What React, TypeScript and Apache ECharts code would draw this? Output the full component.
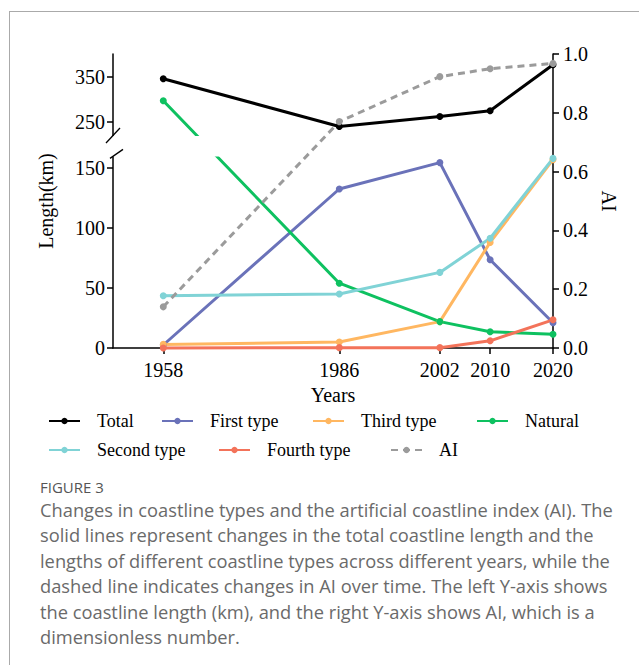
import React, { useEffect, useRef } from "react";
import * as echarts from "echarts";

// ---- data ----
const years = [1958, 1986, 2002, 2010, 2020];
const total = [346, 240, 262, 275, 377];
const firstType = [2.5, 132.5, 154.5, 73.5, 21];
const thirdType = [3, 5, 22, 88, 157];
const natural = [297, 54, 22, 13.5, 11.5];
const secondType = [43.5, 45, 63, 91.5, 158];
const fourthType = [0, 0.3, 0.3, 6, 23.5];
const aiIndex = [0.14, 0.77, 0.923, 0.95, 0.968];
const leftTickValues = [0, 50, 100, 150, 250, 350];

// ---- broken left axis (lower segment 0..158, upper segment 221..401) ----
const LOW_MAX = 158;
const UP_MIN = 221;
const UP_MAX = 401;
const GAP = 19.5;
const UP_RATIO = 0.375;
const toDisp = (v: number) => (v <= LOW_MAX ? v : LOW_MAX + GAP + (v - UP_MIN) * UP_RATIO);
const fromDisp = (d: number) => (d <= LOW_MAX ? d : UP_MIN + (d - LOW_MAX - GAP) / UP_RATIO);

const SERIF = "'Liberation Serif', 'Times New Roman', serif";

const colors = {
  Total: "#000000",
  "First type": "#6a72b9",
  "Third type": "#ffb761",
  Natural: "#0ec160",
  "Second type": "#80d3d6",
  "Fourth type": "#f3735a",
  AI: "#9b9b9b",
};

export default function App() {
  const ref = useRef<HTMLDivElement>(null);

  useEffect(() => {
    if (!ref.current) return;
    const chart = echarts.init(ref.current, undefined, { renderer: "svg" });

    const mk = (name: string, vals: number[]) => ({
      name,
      type: "line",
      xAxisIndex: 0,
      yAxisIndex: 0,
      data: years.map((y, i) => [y, toDisp(vals[i])]),
      symbol: "circle",
      symbolSize: 7,
      showSymbol: true,
      clip: false,
      itemStyle: { color: (colors as any)[name] },
      lineStyle: { color: (colors as any)[name], width: 3 },
    });

    const legendPos: [string, number, number][] = [
      ["Total", 48, 412],
      ["First type", 161, 412],
      ["Third type", 312, 412],
      ["Natural", 476, 412],
      ["Second type", 48, 441],
      ["Fourth type", 218, 441],
      ["AI", 390, 441],
    ];

    const option: any = {
      animation: false,
      backgroundColor: "transparent",
      textStyle: { fontFamily: SERIF },
      grid: { left: 113, top: 54, right: 86, bottom: 122, containLabel: false },
      legend: legendPos.map(([n, l, t]) => ({
        data: [n],
        left: l,
        top: t,
        itemWidth: 31,
        itemHeight: 8,
        selectedMode: false,
        padding: 0,
        textStyle: { fontFamily: SERIF, fontSize: 18, color: "#000", padding: [0, 0, 0, 12] },
      })),
      xAxis: {
        type: "value",
        min: 1950,
        max: 2020,
        name: "Years",
        nameLocation: "middle",
        nameGap: 37,
        nameTextStyle: { fontFamily: SERIF, fontSize: 20, color: "#000" },
        axisLine: { show: true, lineStyle: { color: "#000", width: 1.5 } },
        axisTick: { show: true, length: 6, customValues: years, lineStyle: { color: "#000", width: 1.5 } },
        axisLabel: {
          customValues: years,
          margin: 12,
          fontFamily: SERIF,
          fontSize: 20,
          color: "#000",
          formatter: (v: number) => String(v),
        },
        splitLine: { show: false },
      },
      yAxis: [
        {
          type: "value",
          position: "left",
          min: 0,
          max: toDisp(UP_MAX),
          name: "Length(km)",
          nameLocation: "middle",
          nameGap: 57,
          nameTextStyle: { fontFamily: SERIF, fontSize: 20, color: "#000" },
          axisLine: { show: true, lineStyle: { color: "#000", width: 1.5 } },
          axisTick: {
            show: true,
            length: 6,
            customValues: leftTickValues.map(toDisp),
            lineStyle: { color: "#000", width: 1.5 },
          },
          axisLabel: {
            customValues: leftTickValues.map(toDisp),
            margin: 8,
            fontFamily: SERIF,
            fontSize: 20,
            color: "#000",
            formatter: (v: number) => String(Math.round(fromDisp(v))),
          },
          splitLine: { show: false },
        },
        {
          type: "value",
          position: "right",
          min: 0,
          max: 1,
          interval: 0.2,
          name: "AI",
          nameLocation: "middle",
          nameGap: 45,
          nameRotate: -90,
          nameTextStyle: { fontFamily: SERIF, fontSize: 20, color: "#000" },
          axisLine: { show: true, lineStyle: { color: "#000", width: 1.5 } },
          axisTick: { show: true, length: 6, lineStyle: { color: "#000", width: 1.5 } },
          axisLabel: {
            margin: 10,
            fontFamily: SERIF,
            fontSize: 20,
            color: "#000",
            formatter: (v: number) => v.toFixed(1),
          },
          splitLine: { show: false },
        },
      ],
      series: [
        mk("Total", total),
        mk("First type", firstType),
        mk("Third type", thirdType),
        mk("Natural", natural),
        mk("Second type", secondType),
        mk("Fourth type", fourthType),
        {
          name: "AI",
          type: "line",
          xAxisIndex: 0,
          yAxisIndex: 1,
          data: years.map((y, i) => [y, aiIndex[i]]),
          symbol: "circle",
          symbolSize: 7,
          clip: false,
          itemStyle: { color: colors.AI },
          lineStyle: { color: colors.AI, width: 3, type: [7, 5] },
        },
      ],
    };

    chart.setOption(option);

    // break marks on left axis
    const axX = chart.convertToPixel({ xAxisIndex: 0 }, 1950) as number;
    const yUp = chart.convertToPixel({ yAxisIndex: 0 }, toDisp(UP_MIN)) as number;
    const yLow = chart.convertToPixel({ yAxisIndex: 0 }, LOW_MAX) as number;
    chart.setOption({
      graphic: [
        {
          type: "rect",
          z: 100,
          shape: { x: axX - 3, y: yUp + 1, width: 135, height: yLow - yUp - 3 },
          style: { fill: "#ffffff" },
        },
        {
          type: "line",
          z: 101,
          shape: { x1: axX - 7, y1: yUp + 8, x2: axX + 7, y2: yUp - 7 },
          style: { stroke: "#000", lineWidth: 1.3 },
        },
        {
          type: "line",
          z: 101,
          shape: { x1: axX - 3, y1: yLow, x2: axX + 10, y2: yLow - 9 },
          style: { stroke: "#000", lineWidth: 1.3 },
        },
      ],
    });

    return () => chart.dispose();
  }, []);

  const captionLines = [
    "Changes in coastline types and the artificial coastline index (AI). The",
    "solid lines represent changes in the total coastline length and the",
    "lengths of different coastline types across different years, while the",
    "dashed line indicates changes in AI over time. The left Y-axis shows",
    "the coastline length (km), and the right Y-axis shows AI, which is a",
    "dimensionless number.",
  ];

  return (
    <div
      style={{
        position: "absolute",
        left: 0,
        top: 0,
        width: 639,
        height: 665,
        overflow: "hidden",
        background: "#fff",
      }}
    >
      <div
        style={{
          position: "absolute",
          left: 9,
          top: 11,
          width: 700,
          height: 700,
          border: "1px solid #aaaaaa",
        }}
      />
      <div ref={ref} style={{ position: "absolute", left: 0, top: 0, width: 639, height: 470 }} />
      <div
        style={{
          position: "absolute",
          left: 40,
          top: 477,
          fontFamily: "'Open Sans', sans-serif",
          fontSize: 15,
          fontWeight: 400,
          color: "#555555",
        }}
      >
        FIGURE 3
      </div>
      <div
        style={{
          position: "absolute",
          left: 40,
          top: 497,
          fontFamily: "'Open Sans', sans-serif",
          fontSize: 18.3,
          lineHeight: "25.4px",
          color: "#6a6a6a",
          whiteSpace: "nowrap",
        }}
      >
        {captionLines.map((l, i) => (
          <div key={i}>{l}</div>
        ))}
      </div>
    </div>
  );
}
